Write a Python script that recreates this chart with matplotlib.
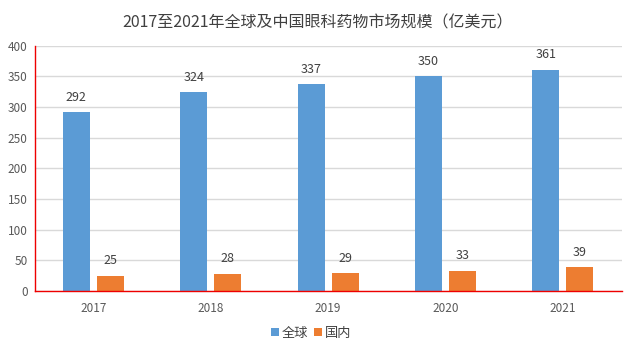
import matplotlib
matplotlib.use("Agg")
import matplotlib.pyplot as plt
import numpy as np

plt.rcParams['font.family'] = ['Noto Sans CJK SC', 'DejaVu Sans']

years = ["2017", "2018", "2019", "2020", "2021"]
global_vals = [292, 324, 337, 350, 361]
china_vals = [25, 28, 29, 33, 39]
series_names = ["全球", "国内"]
title = "2017至2021年全球及中国眼科药物市场规模（亿美元）"

fig = plt.figure(figsize=(6.35, 3.51), dpi=100)
ax = fig.add_axes([0.0545, 0.171, 0.9245, 0.699])

x = np.arange(len(years))
w = 0.23
off = 0.145
b1 = ax.bar(x - off, global_vals, w, color="#5b9bd5", label=series_names[0], zorder=3)
b2 = ax.bar(x + off, china_vals, w, color="#ed7d31", label=series_names[1], zorder=3)

for bars in (b1, b2):
    for r in bars:
        ax.annotate(f"{int(r.get_height())}", (r.get_x() + r.get_width() / 2, r.get_height()),
                    xytext=(0, 6), textcoords="offset points", ha="center", va="bottom",
                    fontsize=9, color="#404040")

ax.set_xlim(-0.5, len(years) - 0.5)
ax.set_ylim(0, 400)
ax.set_yticks(range(0, 401, 50))
ax.set_xticks(x)
ax.set_xticklabels(years)
ax.tick_params(axis="both", length=0, labelsize=8.5, labelcolor="#595959")
ax.tick_params(axis="x", pad=8)
ax.tick_params(axis="y", pad=5)
ax.yaxis.grid(True, color="#d9d9d9", linewidth=1, zorder=0)
ax.set_axisbelow(True)
for s in ("top", "right"):
    ax.spines[s].set_visible(False)
for s in ("left", "bottom"):
    ax.spines[s].set_color("#ee0000")
    ax.spines[s].set_linewidth(1)
    ax.spines[s].set_zorder(4)

fig.text(0.5, 0.935, title, ha="center", va="center", fontsize=11.5, color="#404040")
fig.legend(handles=[b1, b2], labels=series_names, loc="center", bbox_to_anchor=(0.49, 0.05),
           ncol=2, frameon=False, fontsize=9.5, handlelength=0.6, handleheight=0.6,
           handletextpad=0.2, columnspacing=0.5, labelcolor="#404040")

fig.savefig("out.png", dpi=100)
